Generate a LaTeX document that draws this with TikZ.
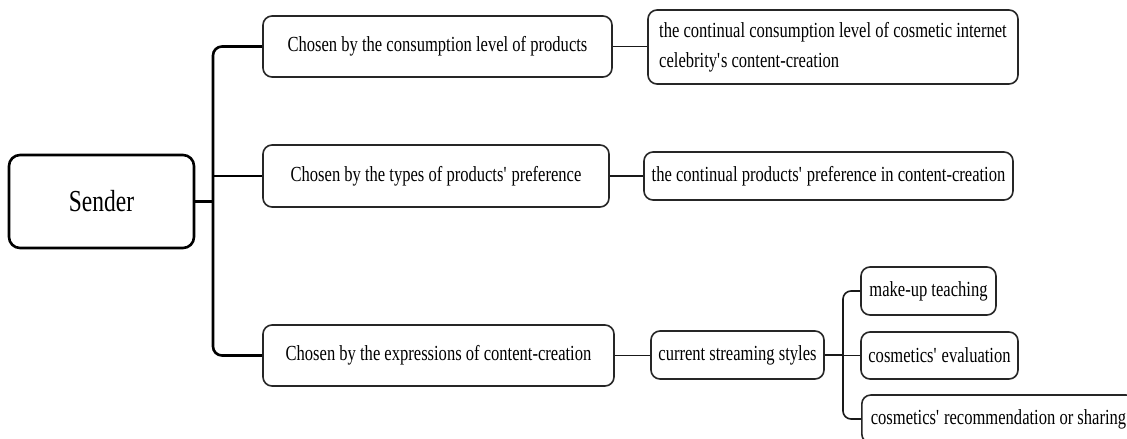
\documentclass[tikz,border=0pt]{standalone}
\usepackage{fontspec}
\setmainfont{Liberation Serif}[FakeStretch=0.77]
\newcommand{\sq}{\textquotesingle}
\begin{document}
\begin{tikzpicture}[x=1pt,y=-1pt,
  box/.style={draw=black!85, line width=1.6pt, rounded corners=9pt, fill=white,
    inner sep=0pt, font=\fontsize{21.5}{30}\selectfont, text=black},
  rootbox/.style={draw=black, line width=2.6pt, rounded corners=11pt, fill=white,
    inner sep=0pt, font=\fontsize{30.5}{36}\selectfont, text=black},
  trunk/.style={draw=black, line width=2.6pt, rounded corners=9pt},
  twig/.style={draw=black!90, line width=1.6pt, rounded corners=8pt}]
\useasboundingbox (0,0) rectangle (1127,439);

\node[rootbox, minimum width=185pt, minimum height=93pt] (sender) at (101.5,201.5) {Sender};

\node[box, minimum width=349pt, minimum height=61pt] (c1) at (437.5,46.5) {Chosen by the consumption level of products};
\node[box, minimum width=346pt, minimum height=62pt] (c2) at (436,176) {Chosen by the types of products\sq{} preference};
\node[box, minimum width=351pt, minimum height=61pt] (c3) at (438.5,355.5) {Chosen by the expressions of content-creation};

\node[box, minimum width=370pt, minimum height=74pt, align=left] (d1) at (833,47)
  {the continual consumption level of cosmetic internet\\celebrity\sq{}s content-creation};
\node[box, minimum width=369pt, minimum height=48pt] (d2) at (828.5,176) {the continual products\sq{} preference in content-creation};
\node[box, minimum width=173pt, minimum height=48pt] (d3) at (737.5,355) {current streaming styles};

\node[box, minimum width=135pt, minimum height=48pt] (e1) at (928.5,291) {make-up teaching};
\node[box, minimum width=157pt, minimum height=47pt] (e2) at (939.5,355.5) {cosmetics\sq{} evaluation};
\node[box, minimum height=48pt, anchor=west, inner xsep=9pt] (e3) at (861,419) {cosmetics\sq{} recommendation or sharing};

\coordinate (tx) at (213,0);
\coordinate (sx) at (843,0);

\draw[trunk] (c1.west) -- (c1.west -| tx) -- (c3.west -| tx) -- (c3.west);
\draw[trunk] (sender.east) -- (sender.east -| tx);
\draw[trunk] (c2.west) -- (c2.west -| tx);

\draw[twig] (c1.east) -- (c1.east -| d1.west);
\draw[twig] (c2.east) -- (c2.east -| d2.west);
\draw[twig] (c3.east) -- (c3.east -| d3.west);

\draw[twig] (e1.west) -- (e1.west -| sx) -- (e3.west -| sx) -- (e3.west);
\draw[twig] (d3.east) -- (d3.east -| sx);
\draw[twig] (e2.west) -- (e2.west -| sx);
\end{tikzpicture}
\end{document}
